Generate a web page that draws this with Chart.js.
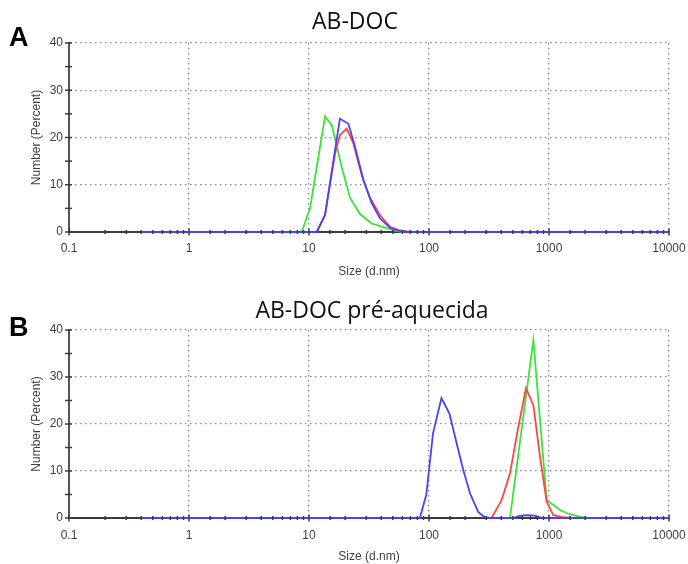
<!DOCTYPE html>
<html>
<head>
<meta charset="utf-8">
<script src="https://cdn.jsdelivr.net/npm/chart.js@4.4.0/dist/chart.umd.min.js"></script>
<style>
  html, body { margin: 0; padding: 0; background: #fff; }
  #wrap { position: relative; width: 688px; height: 564px; overflow: hidden; }
  canvas { position: absolute; left: 0; }
  #chartA { top: 0; }
  #chartB { top: 279px; }
  .panel-letter { position: absolute; left: 9px; font: bold 27px "Liberation Sans", Arial, sans-serif; color: #000; line-height: 1; }
  .panel-title { position: absolute; font: 23px "Open Sans", "Noto Sans", sans-serif; color: #111; white-space: nowrap; line-height: 1; transform: translate(-50%, -50%); }
</style>
</head>
<body>
<div id="wrap">
  <canvas id="chartA" width="688" height="279"></canvas>
  <canvas id="chartB" width="688" height="285"></canvas>
  <div class="panel-letter" style="top:24px">A</div>
  <div class="panel-letter" style="top:314px">B</div>
  <div class="panel-title" style="left:355px; top:20px">AB-DOC</div>
  <div class="panel-title" style="left:372px; top:309px">AB-DOC pré-aquecida</div>
</div>
<script>
// Size distributions (Number %) vs size (d.nm)

// Panel A - AB-DOC
const aBlueSize  = [0.4, 11.6, 13.6, 16, 18.1, 21.3, 24.2, 28.4, 33.3, 39, 47.3, 56, 65, 10000];
const aBluePct   = [0, 0, 3.6, 15.2, 24, 22.9, 18, 11, 6.1, 2.9, 0.9, 0.3, 0, 0];
const aRedSize   = [11.6, 13.6, 16.5, 18.1, 20.6, 23.4, 27.5, 32.2, 39, 47.3, 56, 70];
const aRedPct    = [0, 3.6, 16.6, 20.5, 21.9, 18.8, 12.0, 7.3, 3.6, 1.1, 0.4, 0];
const aGreenSize = [8.7, 10.2, 13.6, 15.5, 18.7, 22, 26.6, 33.3, 44.4, 52, 62];
const aGreenPct  = [0, 5.0, 24.5, 22.6, 13.8, 7.2, 3.8, 1.8, 0.8, 0.3, 0];

// Panel B - AB-DOC pre-aquecida
const bBlueSize  = [0.4, 84, 95, 108, 127, 148, 170, 193, 220, 257, 290, 320, 500, 560, 650, 760, 880, 10000];
const bBluePct   = [0, 0, 5, 18, 25.5, 22.2, 15.9, 10.2, 5.2, 1.3, 0.2, 0, 0, 0.4, 0.6, 0.5, 0, 0];
const bRedSize   = [332, 403, 473, 555, 643, 741, 842, 956, 1086, 1300, 1650];
const bRedPct    = [0, 3.8, 9.5, 19.4, 27.6, 24, 13, 3.5, 0.6, 0.2, 0];
const bGreenSize = [473, 741, 956, 1086, 1250, 1500, 1800, 2061];
const bGreenPct  = [0, 37.9, 3.8, 2.8, 1.6, 0.8, 0.3, 0];

const xMin = 0.1, xMax = 10000;
const yMin = 0, yMax = 40, yStep = 5;

const BLUE = '#4444ff', RED = '#ff4444', GREEN = '#3be33b';
const LABEL_COLOR = '#3f3f3f';
const GRID_COLOR = '#888';
const AXIS_COLOR = '#3c3c3c';

function isDecade(v) {
    const l = Math.log10(v);
    return Math.abs(l - Math.round(l)) < 1e-6;
}

function toPoints(sizes, pcts) {
    return sizes.map((s, i) => ({ x: s, y: pcts[i] }));
}

// small cross marks on both axes, drawn over the curves like the original
const axisTickMarks = {
    id: 'axisTickMarks',
    afterDatasetsDraw(chart) {
        const { ctx, chartArea, scales: { x, y } } = chart;
        ctx.save();
        ctx.strokeStyle = AXIS_COLOR;
        ctx.lineWidth = 1.5;
        x.ticks.forEach(t => {
            const px = x.getPixelForValue(t.value);
            const h = isDecade(t.value) ? 3.5 : 2;
            ctx.beginPath();
            ctx.moveTo(px, chartArea.bottom - h);
            ctx.lineTo(px, chartArea.bottom + h);
            ctx.stroke();
        });
        y.ticks.forEach(t => {
            const py = y.getPixelForValue(t.value);
            ctx.beginPath();
            ctx.moveTo(chartArea.left - 4, py);
            ctx.lineTo(chartArea.left + 3, py);
            ctx.stroke();
        });
        ctx.restore();
    }
};

function buildChart(canvasId, series, box) {
    const el = document.getElementById(canvasId);
    const tickFont = { family: '"Liberation Sans", Arial, sans-serif', size: 12 };
    const titleFont = { family: '"Liberation Sans", Arial, sans-serif', size: 12 };

    return new Chart(el, {
        type: 'line',
        data: {
            datasets: series.map(s => ({
                data: toPoints(s.size, s.pct),
                borderColor: s.color,
                borderWidth: 1.8,
                pointRadius: 0,
                tension: 0,
                fill: false,
                clip: false
            }))
        },
        options: {
            responsive: false,
            animation: false,
            devicePixelRatio: 1,
            layout: { padding: { left: 29, right: 19, top: box.top, bottom: 0 } },
            plugins: { legend: { display: false }, tooltip: { enabled: false } },
            scales: {
                x: {
                    type: 'logarithmic',
                    min: xMin,
                    max: xMax,
                    grid: {
                        color: c => (c.tick && isDecade(c.tick.value) && c.tick.value > xMin) ? GRID_COLOR : 'rgba(0,0,0,0)',
                        lineWidth: 1.3,
                        drawTicks: false
                    },
                    border: { color: AXIS_COLOR, width: 2, dash: [1.5, 3.5] },
                    ticks: {
                        autoSkip: false,
                        maxRotation: 0,
                        padding: box.xPad,
                        color: LABEL_COLOR,
                        font: tickFont,
                        callback: v => isDecade(v) ? String(v) : ''
                    },
                    title: { display: true, text: 'Size (d.nm)', padding: 0, color: LABEL_COLOR, font: titleFont },
                    afterFit: s => { s.height = box.xHeight; s.paddingLeft = 0; s.paddingRight = 0; }
                },
                y: {
                    min: yMin,
                    max: yMax,
                    grid: {
                        color: c => (c.tick && c.tick.value > 0 && c.tick.value % 10 === 0) ? GRID_COLOR : 'rgba(0,0,0,0)',
                        lineWidth: 1.3,
                        drawTicks: false
                    },
                    border: { color: '#555', width: 2, dash: [1.5, 3.5] },
                    ticks: {
                        stepSize: yStep,
                        autoSkip: false,
                        padding: 6,
                        color: LABEL_COLOR,
                        font: tickFont,
                        callback: v => v % 10 === 0 ? v : ''
                    },
                    title: { display: true, text: 'Number (Percent)', padding: 0, color: LABEL_COLOR, font: titleFont },
                    afterFit: s => { s.width = 40; s.paddingTop = 0; s.paddingBottom = 0; }
                }
            }
        },
        plugins: [axisTickMarks]
    });
}

// blue first so it is drawn on top
buildChart('chartA', [
    { size: aBlueSize, pct: aBluePct, color: BLUE },
    { size: aRedSize, pct: aRedPct, color: RED },
    { size: aGreenSize, pct: aGreenPct, color: GREEN }
], { top: 43, xHeight: 47, xPad: 9 });

buildChart('chartB', [
    { size: bBlueSize, pct: bBluePct, color: BLUE },
    { size: bRedSize, pct: bRedPct, color: RED },
    { size: bGreenSize, pct: bGreenPct, color: GREEN }
], { top: 51, xHeight: 46, xPad: 10 });
</script>
</body>
</html>
